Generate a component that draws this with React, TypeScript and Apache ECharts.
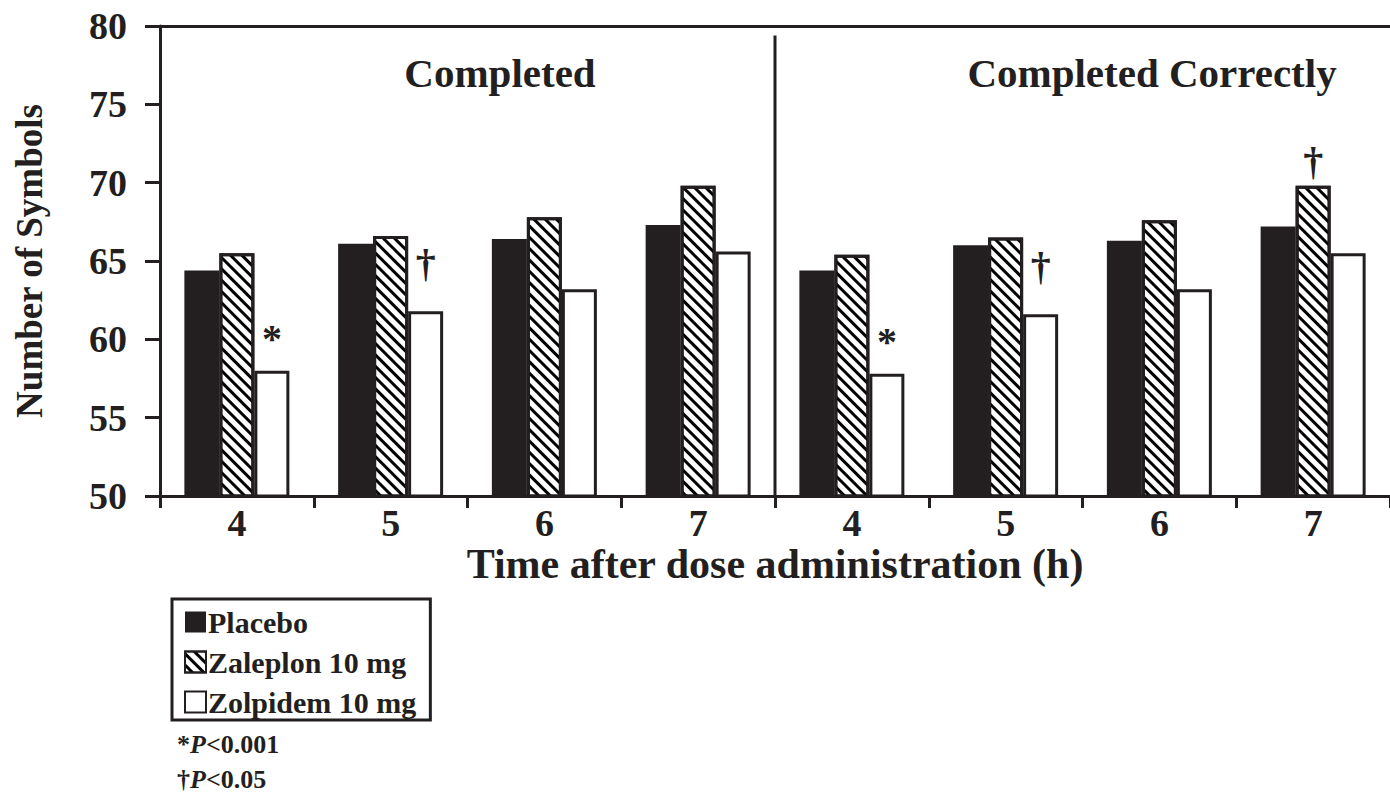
import React, { useEffect, useRef } from "react";
import * as echarts from "echarts";

const categories = ["4", "5", "6", "7", "4", "5", "6", "7"];
const seriesNames = ["Placebo", "Zaleplon 10 mg", "Zolpidem 10 mg"];
const placebo = [64.4, 66.1, 66.4, 67.3, 64.4, 66.0, 66.3, 67.2];
const zaleplon = [65.5, 66.6, 67.8, 69.8, 65.4, 66.5, 67.6, 69.8];
const zolpidem = [58.0, 61.8, 63.2, 65.6, 57.8, 61.6, 63.2, 65.5];
const zaleplonMarks = ["", "", "", "", "", "", "", "†"];
const zolpidemMarks = ["*", "†", "", "", "*", "†", "", ""];
const panelTitles = ["Completed", "Completed Correctly"];
const yMin = 50;
const yMax = 80;
const yStep = 5;
const dividerAt = 4;
const dividerTop = 79.4;
const notes = ["*", "†"];
const noteValues = ["<0.001", "<0.05"];

const INK = "#231f20";
const SERIF = "'Times New Roman', 'Liberation Serif', serif";

function withMarks(values: number[], marks: string[], dagDist: number) {
  return values.map((v, i) => {
    const m = marks[i];
    if (!m) return v;
    return {
      value: v,
      label: {
        show: true,
        position: "top",
        formatter: m,
        fontFamily: SERIF,
        fontWeight: "bold",
        fontSize: 40,
        color: INK,
        distance: m === "*" ? 12 : dagDist,
      },
    };
  });
}

export default function App() {
  const ref = useRef<HTMLDivElement>(null);
  useEffect(() => {
    if (!ref.current) return;
    const chart = echarts.init(ref.current, undefined, { renderer: "svg" });
    const decal = {
      symbol: "rect",
      symbolSize: 1,
      dashArrayX: [1, 0],
      dashArrayY: [2.5, 5],
      rotation: Math.PI / 4,
      color: "#000",
      backgroundColor: "#fff",
    };
    chart.setOption({
      animation: false,
      backgroundColor: "#fff",
      grid: { left: 160, right: -8, top: 26, bottom: 299, containLabel: false },
      legend: {
        data: seriesNames,
        orient: "vertical",
        left: 172,
        top: 599,
        borderWidth: 3,
        borderColor: INK,
        borderRadius: 0,
        padding: [8, 14, 3, 12],
        itemWidth: 21,
        itemHeight: 21,
        itemGap: 10,
        icon: "rect",
        textStyle: {
          fontFamily: SERIF,
          fontWeight: "bold",
          fontSize: 30,
          lineHeight: 30,
          color: INK,
          padding: [0, 0, 0, -3],
        },
      },
      xAxis: [
        {
          type: "category",
          data: categories,
          position: "bottom",
          axisLine: { lineStyle: { color: INK, width: 3 } },
          axisTick: { show: true, length: 12, lineStyle: { color: INK, width: 3 } },
          axisLabel: {
            margin: 10,
            fontFamily: SERIF,
            fontWeight: "bold",
            fontSize: 38,
            lineHeight: 34,
            color: INK,
          },
          name: "Time after dose administration (h)",
          nameLocation: "middle",
          nameGap: 51,
          nameMoveOverlap: false,
          nameTextStyle: {
            fontFamily: SERIF,
            fontWeight: "bold",
            fontSize: 42,
            lineHeight: 34,
            color: INK,
          },
        },
        {
          type: "value",
          min: 0,
          max: categories.length,
          position: "top",
          axisLine: { show: true, lineStyle: { color: INK, width: 3 } },
          axisTick: { show: false },
          axisLabel: { show: false },
          splitLine: { show: false },
        },
      ],
      yAxis: {
        type: "value",
        min: yMin,
        max: yMax,
        interval: yStep,
        axisLine: { show: true, lineStyle: { color: INK, width: 3 } },
        axisTick: { show: true, length: 15, lineStyle: { color: INK, width: 3 } },
        splitLine: { show: false },
        axisLabel: {
          margin: 33,
          fontFamily: SERIF,
          fontWeight: "bold",
          fontSize: 38,
          color: INK,
        },
        name: "Number of Symbols",
        nameLocation: "middle",
        nameGap: 112,
        nameMoveOverlap: false,
        nameTextStyle: { fontFamily: SERIF, fontWeight: "bold", fontSize: 37, color: INK },
      },
      series: [
        {
          name: seriesNames[0],
          type: "bar",
          data: placebo,
          barWidth: 35,
          barGap: "0%",
          itemStyle: { color: INK, borderColor: INK, borderWidth: 0 },
        },
        {
          name: seriesNames[1],
          type: "bar",
          data: withMarks(zaleplon, zaleplonMarks, 4),
          barWidth: 35,
          barGap: "0%",
          itemStyle: { color: "#fff", borderColor: INK, borderWidth: 3, decal },
        },
        {
          name: seriesNames[2],
          type: "bar",
          data: withMarks(zolpidem, zolpidemMarks, 28),
          barWidth: 35,
          barGap: "0%",
          itemStyle: { color: "#fff", borderColor: INK, borderWidth: 3 },
        },
        {
          type: "line",
          xAxisIndex: 1,
          data: [
            [dividerAt, yMin],
            [dividerAt, dividerTop],
          ],
          symbol: "none",
          silent: true,
          lineStyle: { color: INK, width: 3 },
        },
      ],
      graphic: [
        {
          type: "text",
          x: 500,
          y: 73,
          style: {
            text: panelTitles[0],
            fontFamily: SERIF,
            fontWeight: "bold",
            fontSize: 41,
            fill: INK,
            textAlign: "center",
            textVerticalAlign: "middle",
          },
        },
        {
          type: "text",
          x: 1152,
          y: 73,
          style: {
            text: panelTitles[1],
            fontFamily: SERIF,
            fontWeight: "bold",
            fontSize: 41,
            fill: INK,
            textAlign: "center",
            textVerticalAlign: "middle",
          },
        },
        ...notes.map((n, i) => ({
          type: "text",
          x: 177,
          y: 744 + i * 35,
          style: {
            text: `{a|${n}}{b|P}{a|${noteValues[i]}}`,
            textVerticalAlign: "middle",
            rich: {
              a: { fontFamily: SERIF, fontWeight: "bold", fontSize: 26, fill: INK },
              b: {
                fontFamily: SERIF,
                fontWeight: "bold",
                fontStyle: "italic",
                fontSize: 26,
                fill: INK,
              },
            },
          },
        })),
      ],
    });
    return () => chart.dispose();
  }, []);
  return (
    <div
      ref={ref}
      style={{ position: "fixed", left: 0, top: 0, width: 1390, height: 795, background: "#fff" }}
    />
  );
}
